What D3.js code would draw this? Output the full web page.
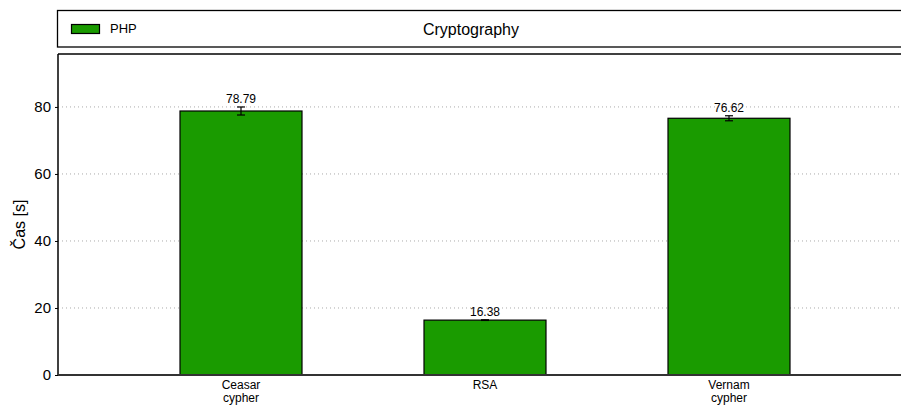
<!DOCTYPE html>
<html><head><meta charset="utf-8">
<script src="https://cdn.jsdelivr.net/npm/d3@7"></script>
<style>body{margin:0;background:#fff}svg{display:block;font-family:"Liberation Sans",Arial,sans-serif}</style>
</head><body><svg id="c" width="901" height="408"></svg>
<script>
const categories = [["Ceasar","cypher"],["RSA"],["Vernam","cypher"]];
const values = [78.79, 16.38, 76.62];
const errors = [1.2, 0.1, 0.75];
const yTicks = [0, 20, 40, 60, 80];
const seriesName = "PHP";
const title = "Cryptography";
const yLabel = "Čas [s]";

const svg = d3.select("#c");
const L = 58, R = 912, T = 54, B = 375;
const x = d3.scaleLinear().domain([-0.75, 2.75]).range([L, R]);
const y = d3.scaleLinear().domain([0, 95.8]).range([B, T]);
const green = "#1a9b00";

// grid
svg.append("g").selectAll("line").data(yTicks.filter(d => d > 0)).join("line")
  .attr("x1", L).attr("x2", R).attr("y1", d => y(d)).attr("y2", d => y(d))
  .attr("stroke", "#aaa").attr("stroke-width", 1).attr("stroke-dasharray", "1,3");

// bars
const bw = 0.5;
svg.append("g").selectAll("rect").data(values).join("rect")
  .attr("x", (d, i) => x(i - bw / 2)).attr("width", (d, i) => x(i + bw / 2) - x(i - bw / 2))
  .attr("y", d => y(d)).attr("height", d => B - y(d))
  .attr("fill", green).attr("stroke", "#000").attr("stroke-width", 1.2);

// error bars
const eg = svg.append("g").attr("stroke", "#000").attr("stroke-width", 1.2);
values.forEach((v, i) => {
  const e = errors[i], cx = x(i);
  eg.append("line").attr("x1", cx).attr("x2", cx).attr("y1", y(v - e)).attr("y2", y(v + e));
  eg.append("line").attr("x1", cx - 4).attr("x2", cx + 4).attr("y1", y(v - e)).attr("y2", y(v - e));
  eg.append("line").attr("x1", cx - 4).attr("x2", cx + 4).attr("y1", y(v + e)).attr("y2", y(v + e));
});

// value labels
svg.append("g").selectAll("text").data(values).join("text")
  .attr("x", (d, i) => x(i)).attr("y", (d, i) => y(d + errors[i]) - 4)
  .attr("text-anchor", "middle").attr("font-size", 12).attr("fill", "#000")
  .text(d => d.toFixed(2));

// axes frame
svg.append("line").attr("x1", L).attr("x2", R).attr("y1", T).attr("y2", T).attr("stroke", "#000").attr("stroke-width", 1.5);
svg.append("line").attr("x1", L).attr("x2", L).attr("y1", T).attr("y2", B).attr("stroke", "#000").attr("stroke-width", 1.5);
svg.append("line").attr("x1", L).attr("x2", R).attr("y1", B).attr("y2", B).attr("stroke", "#333").attr("stroke-width", 2);

// y axis
const ya = svg.append("g").attr("transform", `translate(${L},0)`)
  .call(d3.axisLeft(y).tickValues(yTicks).tickSize(3).tickPadding(4).tickFormat(d3.format("d")));
ya.select(".domain").remove();
ya.selectAll("text").attr("font-size", 15).attr("fill", "#000").attr("font-family", "Liberation Sans, Arial, sans-serif");
ya.selectAll("line").attr("stroke", "#000");

svg.append("text").attr("transform", `translate(25,${(T + B) / 2 + 10}) rotate(-90)`)
  .attr("text-anchor", "middle").attr("font-size", 16).text(yLabel);

// x labels
const xl = svg.append("g");
categories.forEach((c, i) => {
  const t = xl.append("text").attr("x", x(i)).attr("y", 389).attr("text-anchor", "middle").attr("font-size", 12);
  c.forEach((line, j) => t.append("tspan").attr("x", x(i)).attr("dy", j === 0 ? 0 : 13).text(line));
});

// legend box
svg.append("rect").attr("x", 57.5).attr("y", 10.5).attr("width", 900).attr("height", 36.5)
  .attr("fill", "#fff").attr("stroke", "#000").attr("stroke-width", 1.3);
svg.append("rect").attr("x", 71.5).attr("y", 24.5).attr("width", 28).attr("height", 9)
  .attr("fill", green).attr("stroke", "#000").attr("stroke-width", 1.2);
svg.append("text").attr("x", 110).attr("y", 33).attr("font-size", 13).text(seriesName);
svg.append("text").attr("x", 471).attr("y", 35).attr("text-anchor", "middle").attr("font-size", 16).text(title);
</script></body></html>
